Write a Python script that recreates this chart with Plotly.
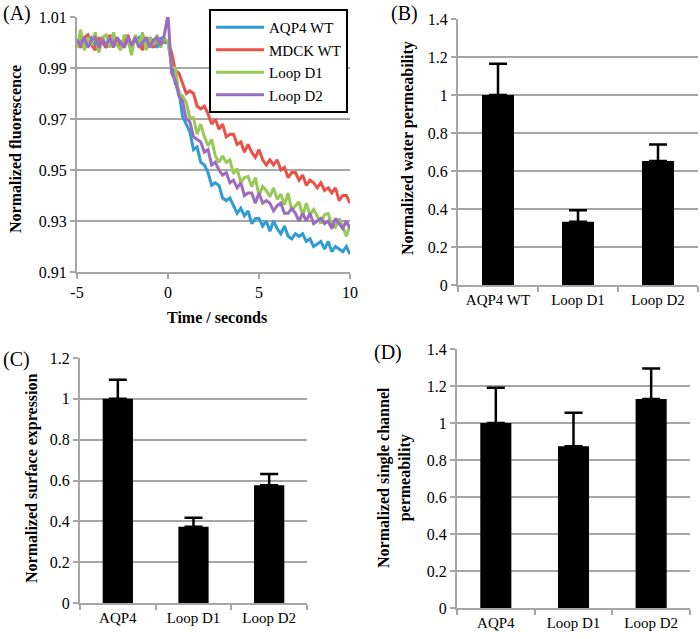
import plotly.graph_objects as go

# ---------------- Panel A data ----------------
time_s = [-5.0, -4.8, -4.6, -4.4, -4.2, -4.0, -3.8, -3.6, -3.4, -3.2,
          -3.0, -2.8, -2.6, -2.4, -2.2, -2.0, -1.8, -1.6, -1.4, -1.2,
          -1.0, -0.8, -0.6, -0.4, -0.2,
          0.0, 0.2, 0.4, 0.6, 0.8, 1.0, 1.2, 1.4, 1.6, 1.8,
          2.0, 2.2, 2.4, 2.6, 2.8, 3.0, 3.2, 3.4, 3.6, 3.8,
          4.0, 4.2, 4.4, 4.6, 4.8, 5.0, 5.2, 5.4, 5.6, 5.8,
          6.0, 6.2, 6.4, 6.6, 6.8, 7.0, 7.2, 7.4, 7.6, 7.8,
          8.0, 8.2, 8.4, 8.6, 8.8, 9.0, 9.2, 9.4, 9.6, 9.8, 10.0]

aqp4_wt = [1.000, 1.002, 0.998, 1.001, 1.002, 0.999, 1.000, 1.002, 0.998, 1.000,
           1.002, 0.999, 0.998, 1.002, 1.000, 0.998, 1.001, 1.002, 0.999, 0.998,
           1.002, 1.000, 0.998, 1.002, 1.000,
           1.000,
           0.992, 0.984, 0.981, 0.971, 0.968, 0.965, 0.958, 0.959, 0.953, 0.952,
           0.949, 0.944, 0.945, 0.944, 0.939, 0.938, 0.939, 0.936, 0.933, 0.935,
           0.932, 0.934, 0.929, 0.931, 0.931, 0.928, 0.930, 0.926, 0.930, 0.927,
           0.925, 0.928, 0.924, 0.923, 0.925, 0.924, 0.925, 0.922, 0.923, 0.920,
           0.921, 0.922, 0.919, 0.922, 0.918, 0.920, 0.919, 0.918, 0.920, 0.917]

mdck_wt = [1.000, 0.998, 1.002, 1.003, 0.999, 0.997, 1.002, 1.000, 0.998, 1.003,
           0.999, 1.002, 0.998, 1.000, 1.003, 0.998, 1.002, 1.000, 0.997, 1.002,
           1.000, 0.998, 1.002, 0.999, 1.001,
           1.000,
           0.996, 0.989, 0.988, 0.984, 0.980, 0.981, 0.980, 0.975, 0.974, 0.975,
           0.972, 0.968, 0.970, 0.966, 0.968, 0.963, 0.964, 0.964, 0.960, 0.961,
           0.957, 0.960, 0.957, 0.955, 0.958, 0.954, 0.952, 0.954, 0.952, 0.954,
           0.950, 0.951, 0.947, 0.949, 0.949, 0.946, 0.948, 0.944, 0.946, 0.945,
           0.943, 0.945, 0.942, 0.943, 0.941, 0.943, 0.938, 0.940, 0.940, 0.937]

loop_d1 = [0.998, 1.005, 0.997, 1.002, 0.999, 1.004, 0.996, 1.002, 1.003, 0.998,
           1.004, 0.999, 0.997, 1.003, 1.001, 0.995, 1.003, 0.999, 1.004, 0.997,
           1.002, 0.999, 1.003, 0.998, 1.002,
           1.000,
           0.9905, 0.990, 0.980, 0.979, 0.9765, 0.9705, 0.9705, 0.964, 0.968, 0.963,
           0.9595, 0.962, 0.9555, 0.953, 0.9555, 0.953, 0.954, 0.9485, 0.9505, 0.945,
           0.947, 0.9475, 0.9435, 0.947, 0.940, 0.9435, 0.942, 0.9395, 0.943, 0.9385,
           0.9405, 0.9365, 0.941, 0.934, 0.936, 0.9375, 0.932, 0.937, 0.9325, 0.9345,
           0.932, 0.929, 0.9325, 0.933, 0.9285, 0.9275, 0.931, 0.928, 0.924, 0.9285]

loop_d2 = [1.001, 0.999, 1.002, 0.998, 1.001, 1.002, 0.998, 1.001, 0.999, 1.002,
           0.998, 1.002, 1.000, 0.998, 1.002, 0.999, 1.002, 0.998, 1.000, 1.002,
           0.998, 1.001, 1.002, 0.999, 1.003,
           1.011,
           0.988, 0.985, 0.979, 0.977, 0.970, 0.969, 0.963, 0.962, 0.961, 0.957,
           0.958, 0.952, 0.953, 0.950, 0.948, 0.949, 0.945, 0.946, 0.943, 0.945,
           0.940, 0.941, 0.941, 0.937, 0.941, 0.937, 0.938, 0.937, 0.934, 0.936,
           0.937, 0.933, 0.933, 0.935, 0.933, 0.930, 0.933, 0.930, 0.933, 0.929,
           0.930, 0.931, 0.929, 0.930, 0.927, 0.931, 0.929, 0.927, 0.930, 0.927]

series_names = ["AQP4 WT", "MDCK WT", "Loop D1", "Loop D2"]
series_colors = ["#2f9bd7", "#ea5249", "#97c954", "#9b6cc0"]
time_ticks = [-5, 0, 5, 10]
time_tick_text = ["-5", "0", "5", "10"]

# ---------------- Panel B data ----------------
b_categories = ["AQP4 WT", "Loop D1", "Loop D2"]
b_values = [1.0, 0.333, 0.653]
b_errors = [0.165, 0.06, 0.087]

# ---------------- Panel C data ----------------
c_categories = ["AQP4", "Loop D1", "Loop D2"]
c_values = [1.0, 0.373, 0.577]
c_errors = [0.093, 0.045, 0.055]

# ---------------- Panel D data ----------------
d_categories = ["AQP4", "Loop D1", "Loop D2"]
d_values = [1.0, 0.875, 1.13]
d_errors = [0.19, 0.18, 0.165]

W, H = 700, 639
SERIF = "Liberation Serif"
GRID = "#a6a6a6"


def px(x):
    return x / W


def py(y):
    return 1 - y / H


fig = go.Figure()

for name, col, ys in zip(series_names, series_colors, [aqp4_wt, mdck_wt, loop_d1, loop_d2]):
    fig.add_trace(go.Scatter(x=time_s, y=ys, mode="lines", name=name,
                             line=dict(color=col, width=3),
                             xaxis="x", yaxis="y"))


def add_bars(cats, vals, errs, xa, ya):
    fig.add_trace(go.Bar(x=cats, y=vals, marker=dict(color="black", line=dict(width=0)),
                         error_y=dict(type="data", symmetric=False, array=errs,
                                      arrayminus=[0] * len(errs), color="black",
                                      thickness=2.5, width=9),
                         showlegend=False, xaxis=xa, yaxis=ya))


add_bars(b_categories, b_values, b_errors, "x2", "y2")
add_bars(c_categories, c_values, c_errors, "x3", "y3")
add_bars(d_categories, d_values, d_errors, "x4", "y4")

tickfont = dict(family=SERIF, size=16, color="black")
cattickfont = dict(family=SERIF, size=15, color="black")

common_y = dict(showgrid=True, gridcolor=GRID, gridwidth=2, showline=True, linecolor=GRID,
                linewidth=2, ticks="outside", tickcolor=GRID, ticklen=5, tickwidth=2,
                zeroline=False, tickfont=tickfont, fixedrange=True, automargin=False)
common_xcat = dict(showgrid=False, showline=True, linecolor=GRID, linewidth=2,
                   ticks="outside", tickson="boundaries", tickcolor=GRID, ticklen=5,
                   tickwidth=2, tickfont=cattickfont, tickangle=0, fixedrange=True,
                   automargin=False)

fig.update_layout(
    width=W, height=H,
    margin=dict(l=0, r=0, t=0, b=0, pad=0, autoexpand=False),
    paper_bgcolor="white", plot_bgcolor="white",
    bargap=0.6,
    showlegend=True,
    legend=dict(x=px(209), y=py(9), xanchor="left", yanchor="top",
                bordercolor="black", borderwidth=2, bgcolor="white",
                font=dict(family=SERIF, size=15, color="black"),
                tracegroupgap=0, itemwidth=48),
    xaxis=dict(domain=[px(77), px(350)], range=[-5, 10], tickvals=time_ticks,
               ticktext=time_tick_text,
               showgrid=False, showline=True, linecolor=GRID, linewidth=2,
               ticks="outside", tickcolor=GRID, ticklen=5, tickwidth=2,
               zeroline=False, tickfont=tickfont, anchor="y", fixedrange=True,
               automargin=False),
    yaxis=dict(domain=[py(272), py(17)], range=[0.91, 1.01], dtick=0.02, tick0=0.91,
               tickformat=".2f", anchor="x", **common_y),
    xaxis2=dict(domain=[px(458), px(698)], anchor="y2", **common_xcat),
    yaxis2=dict(domain=[py(285), py(19)], range=[0, 1.4], dtick=0.2, anchor="x2", **common_y),
    xaxis3=dict(domain=[px(80), px(307)], anchor="y3", **common_xcat),
    yaxis3=dict(domain=[py(603), py(358)], range=[0, 1.2], dtick=0.2, anchor="x3", **common_y),
    xaxis4=dict(domain=[px(457), px(690)], anchor="y4", **common_xcat),
    yaxis4=dict(domain=[py(608), py(349)], range=[0, 1.4], dtick=0.2, anchor="x4", **common_y),
)

title_font = dict(family=SERIF, size=16, color="black")
label_font = dict(family=SERIF, size=20, color="black")

annotations = [
    dict(text="(A)", x=px(1), y=py(14), xanchor="left", yanchor="middle", font=label_font),
    dict(text="(B)", x=px(389), y=py(14), xanchor="left", yanchor="middle", font=label_font),
    dict(text="(C)", x=px(1), y=py(359), xanchor="left", yanchor="middle", font=label_font),
    dict(text="(D)", x=px(372), y=py(352), xanchor="left", yanchor="middle", font=label_font),
    dict(text="<b>Normalized fluorescence</b>", x=px(15), y=py(149), textangle=-90,
         xanchor="center", yanchor="middle", font=title_font),
    dict(text="<b>Time / seconds</b>", x=px(217), y=py(317),
         xanchor="center", yanchor="middle", font=title_font),
    dict(text="<b>Normalized water permeability</b>", x=px(408), y=py(148), textangle=-90,
         xanchor="center", yanchor="middle", font=title_font),
    dict(text="<b>Normalized surface expression</b>", x=px(32), y=py(478), textangle=-90,
         xanchor="center", yanchor="middle", font=title_font),
    dict(text="<b>Normalized single channel<br>permeability</b>", x=px(394), y=py(478),
         textangle=-90, xanchor="center", yanchor="middle", font=title_font),
]
for a in annotations:
    a.update(xref="paper", yref="paper", showarrow=False)
fig.update_layout(annotations=annotations)

fig.write_html("out.html", config={"displayModeBar": False},
               post_script="document.body.style.margin='0';document.body.style.padding='0';")
